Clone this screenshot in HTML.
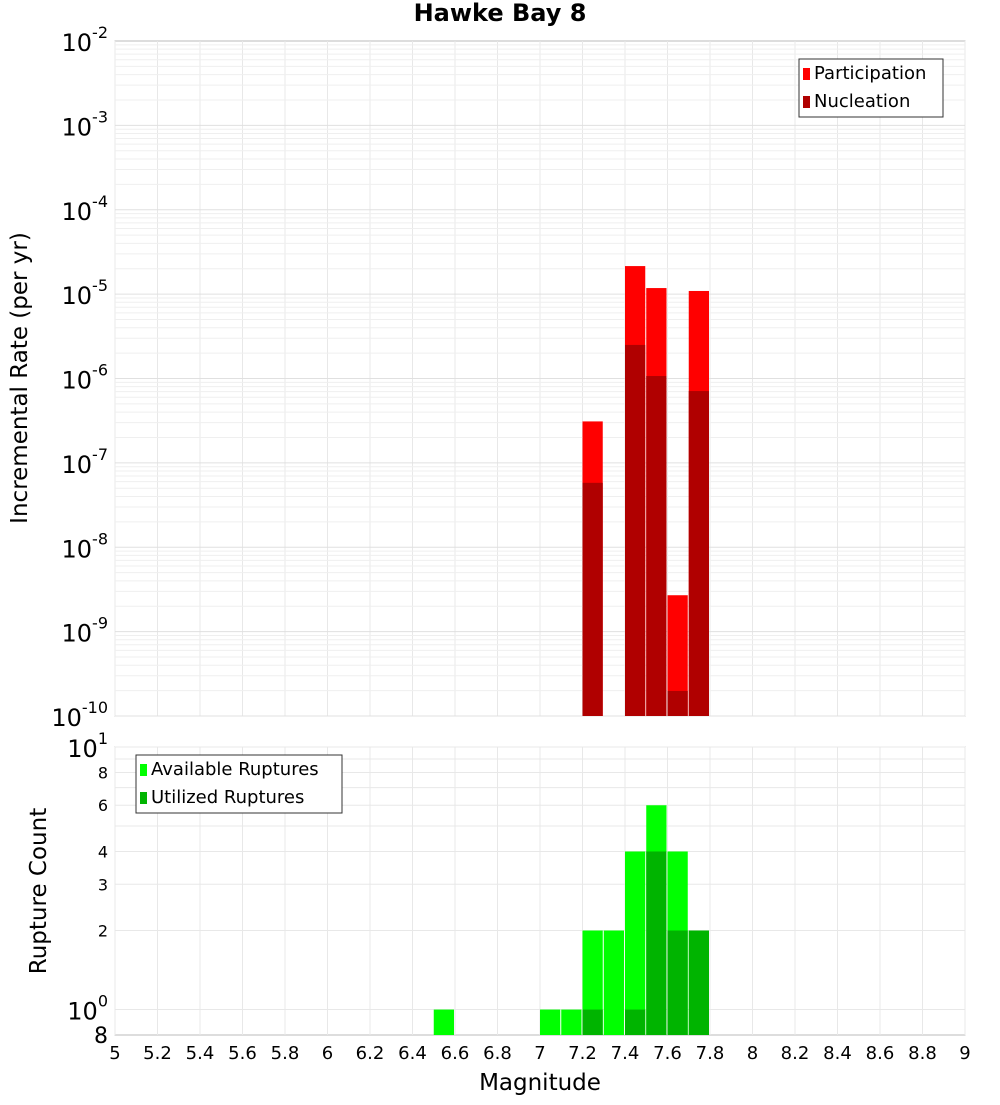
<!DOCTYPE html>
<html><head><meta charset="utf-8"><style>
body{margin:0;background:#fff;font-family:"Liberation Sans","DejaVu Sans",sans-serif}
</style></head><body>
<svg id="c" width="1000" height="1100" xmlns="http://www.w3.org/2000/svg" font-family="DejaVu Sans, Liberation Sans, sans-serif"></svg>
<script>
const mags=[7.2,7.4,7.5,7.6,7.7];
const participation=[3.1e-7,2.15e-5,1.18e-5,2.7e-9,1.09e-5];
const nucleation=[5.8e-8,2.5e-6,1.07e-6,1.98e-10,7.1e-7];
const countMags=[6.5,7.0,7.1,7.2,7.3,7.4,7.5,7.6,7.7];
const available=[1,1,1,2,2,4,6,4,2];
const utilMags=[7.2,7.4,7.5,7.6,7.7];
const utilized=[1,1,4,2,2];
const xTicks=[5,5.2,5.4,5.6,5.8,6,6.2,6.4,6.6,6.8,7,7.2,7.4,7.6,7.8,8,8.2,8.4,8.6,8.8,9];
const topExps=[-2,-3,-4,-5,-6,-7,-8,-9,-10];
const botTicks=[8,6,4,3,2];

const svg=document.getElementById('c');
const NS='http://www.w3.org/2000/svg';
function mk(t,a,p){const e=document.createElementNS(NS,t);for(const k in a)e.setAttribute(k,a[k]);(p||svg).appendChild(e);return e;}
const L=115,R=965,T1=41,B1=716,T2=747,B2=1035;
const x=m=>L+(m-5)/4*(R-L);
const y1=v=>T1+(-2-Math.log10(v))*(B1-T1)/8;
const lo=Math.log10(0.8),hi=1;
const y2=v=>B2-(Math.log10(v)-lo)/(hi-lo)*(B2-T2);

let e=mk('rect',{x:L,y:T1,width:R-L,height:B1-T1,fill:'#fff',stroke:'#bbb'});

e=mk('rect',{x:L,y:T2,width:R-L,height:B2-T2,fill:'#fff',stroke:'#bbb'});


for(const t of xTicks){
  mk('line',{x1:x(t),x2:x(t),y1:T1,y2:B1,stroke:'#e8e8e8'});
  mk('line',{x1:x(t),x2:x(t),y1:T2,y2:B2,stroke:'#e8e8e8'});
}
for(let d=-10;d<-2;d++){for(let k=1;k<10;k++){const yy=y1(k*Math.pow(10,d));mk('line',{x1:L,x2:R,y1:yy,y2:yy,stroke:k==1?'#e0e0e0':'#efefef'});}}
for(const v of [1,2,3,4,5,6,7,8,9,10]){const yy=y2(v);mk('line',{x1:L,x2:R,y1:yy,y2:yy,stroke:'#e8e8e8'});}

mags.forEach((m,i)=>{
  let b=mk('rect',{x:x(m),y:y1(participation[i]),width:x(m+0.1)-x(m)-1,height:B1-y1(participation[i]),fill:'#ff0000'});
  
  b=mk('rect',{x:x(m),y:y1(nucleation[i]),width:x(m+0.1)-x(m)-1,height:B1-y1(nucleation[i]),fill:'#b00000'});
  
});
countMags.forEach((m,i)=>{
  const b=mk('rect',{x:x(m),y:y2(available[i]),width:x(m+0.1)-x(m)-1,height:B2-y2(available[i]),fill:'#00ff00'});
  
});
utilMags.forEach((m,i)=>{
  const b=mk('rect',{x:x(m),y:y2(utilized[i]),width:x(m+0.1)-x(m)-1,height:B2-y2(utilized[i]),fill:'#00b400'});
  
});

topExps.forEach(p=>{
  const t=mk('text',{x:108,y:y1(Math.pow(10,p))+10,'text-anchor':'end','font-size':24,fill:'#000'});
  
  t.innerHTML='10<tspan dy="-13" font-size="16">'+p+'</tspan>';
});
botTicks.forEach(v=>{
  const t=mk('text',{x:108,y:y2(v)+6,'text-anchor':'end','font-size':16,fill:'#000'});
  
  t.textContent=v;
});
[[10,'1'],[1,'0']].forEach(([v,p])=>{
  const t=mk('text',{x:108,y:y2(v)+10,'text-anchor':'end','font-size':24,fill:'#000'});
  
  t.innerHTML='10<tspan dy="-13" font-size="16">'+p+'</tspan>';
});
e=mk('text',{x:108,y:1043,'text-anchor':'end','font-size':22});e.textContent='8';


xTicks.forEach(t=>{
  const tx=mk('text',{x:x(t),y:1059,'text-anchor':'middle','font-size':18});
  
  tx.textContent=String(t);
});
e=mk('text',{x:540,y:1090,'text-anchor':'middle','font-size':23});e.textContent='Magnitude';

e=mk('text',{x:500,y:21,'text-anchor':'middle','font-size':24,'font-weight':'bold'});e.textContent='Hawke Bay 8';

e=mk('text',{x:0,y:0,'text-anchor':'middle','font-size':23,transform:'translate(27,378) rotate(-90)'});e.textContent='Incremental Rate (per yr)';

e=mk('text',{x:0,y:0,'text-anchor':'middle','font-size':23,transform:'translate(46,891) rotate(-90)'});e.textContent='Rupture Count';


function legend(x0,y0,w,items,name){
  const g=mk('g',{});
  mk('rect',{x:x0,y:y0,width:w,height:58,fill:'#fff',stroke:'#333'},g);
  items.forEach(([c,lbl],i)=>{
    mk('rect',{x:x0+4,y:y0+9+i*28,width:7,height:12,fill:c},g);
    const t=mk('text',{x:x0+15,y:y0+20+i*28,'font-size':18},g);t.textContent=lbl;
  });
}
legend(799,59,144,[['#ff0000','Participation'],['#b00000','Nucleation']],'top-legend');
legend(136,755,206,[['#00ff00','Available Ruptures'],['#00b400','Utilized Ruptures']],'bottom-legend');
</script>
</body></html>
